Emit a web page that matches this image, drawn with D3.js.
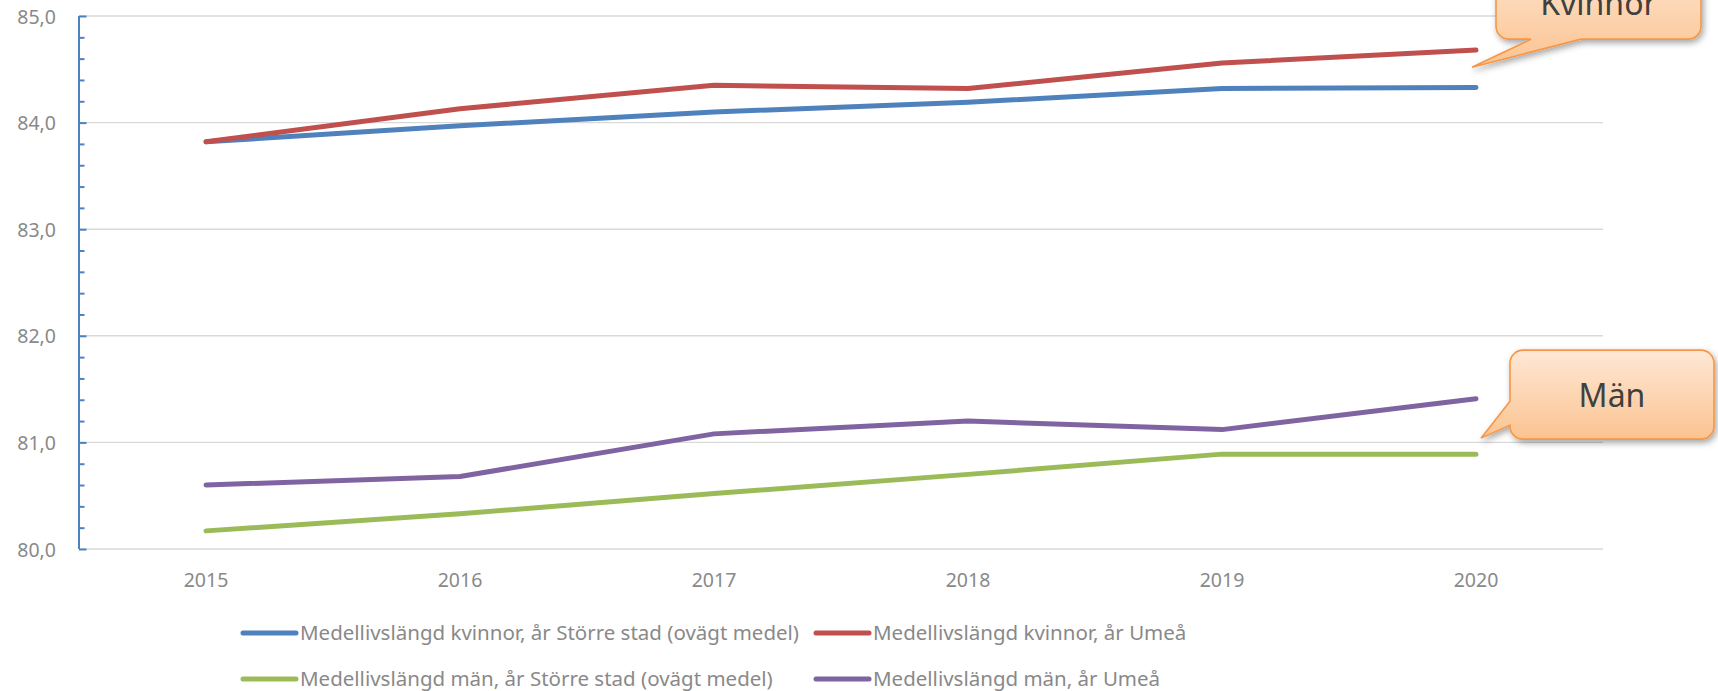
<!DOCTYPE html>
<html>
<head>
<meta charset="utf-8">
<script src="https://cdn.jsdelivr.net/npm/d3@7"></script>
<style>
    body { margin: 0; background: #fff; }
    svg { display: block; font-family: 'Noto Sans', sans-serif; }
    .gridline { stroke: #d9d9d9; stroke-width: 1.4; }
    .tick-label { fill: #898989; font-size: 19.5px; }
    .legend-label { fill: #898989; font-size: 20.5px; }
    .callout-text { fill: #404040; font-size: 32px; }
</style>
</head>
<body>
<div id="chart"></div>
<script>
// values
const years = ['2015', '2016', '2017', '2018', '2019', '2020'];
const kvinnorStorreStad = [83.82, 83.97, 84.10, 84.19, 84.32, 84.33];
const kvinnorUmea = [83.82, 84.13, 84.35, 84.32, 84.56, 84.68];
const manStorreStad = [80.17, 80.33, 80.52, 80.70, 80.89, 80.89];
const manUmea = [80.60, 80.68, 81.08, 81.20, 81.12, 81.41];
const seriesNames = [
    'Medellivslängd kvinnor, år Större stad (ovägt medel)',
    'Medellivslängd kvinnor, år Umeå',
    'Medellivslängd män, år Större stad (ovägt medel)',
    'Medellivslängd män, år Umeå'
];
const seriesColors = ['#4f81bd', '#c0504d', '#9bbb59', '#8064a2'];
const yTicks = [80, 81, 82, 83, 84, 85];
const yTickLabels = ['80,0', '81,0', '82,0', '83,0', '84,0', '85,0'];
const calloutLabels = ['Kvinnor', 'Män'];
const calloutTargets = [84.52, 81.04];

function lineChart() {
    // Mike Bostock's margin convention, sized to the 1718x691 window
    let margin = { top: 16, left: 79, right: 115, bottom: 142 },
        totalWidth = 1718,
        totalHeight = 691,
        width = totalWidth - margin.left - margin.right,
        height = totalHeight - margin.top - margin.bottom;

    function chart(selector) {
        let svg = d3.select(selector)
            .append('svg')
            .attr('width', totalWidth)
            .attr('height', totalHeight);

        let defs = svg.append('defs');
        let grad = defs.append('linearGradient')
            .attr('id', 'calloutFill')
            .attr('x1', 0).attr('y1', 0).attr('x2', 0).attr('y2', 1);
        grad.append('stop').attr('offset', '0%').attr('stop-color', '#fee8d6');
        grad.append('stop').attr('offset', '100%').attr('stop-color', '#fbc390');
        defs.append('filter')
            .attr('id', 'shadow')
            .attr('x', '-20%').attr('y', '-20%').attr('width', '150%').attr('height', '150%')
            .append('feDropShadow')
            .attr('dx', 2).attr('dy', 3).attr('stdDeviation', 3)
            .attr('flood-color', '#000').attr('flood-opacity', 0.35);

        let x = d3.scaleBand()
            .domain(years)
            .range([margin.left, margin.left + width]);
        let xMid = d => x(d) + x.bandwidth() / 2;

        let y = d3.scaleLinear()
            .domain([80, 85])
            .range([margin.top + height, margin.top]);

        // horizontal gridlines
        svg.append('g')
            .selectAll('line')
            .data(yTicks).enter()
            .append('line')
            .attr('class', 'gridline')
            .attr('x1', margin.left)
            .attr('x2', margin.left + width)
            .attr('y1', d => y(d))
            .attr('y2', d => y(d));

        // y axis with inside ticks (major every 1, minor every 0.2)
        let yAxis = svg.append('g')
            .attr('transform', `translate(${margin.left},0)`)
            .call(d3.axisRight(y)
                .tickValues(d3.range(80, 85.01, 0.2))
                .tickSize(6)
                .tickFormat(''));
        yAxis.select('.domain')
            .attr('d', `M0,${y(80)}V${y(85)}`)
            .attr('stroke', '#4f81bd')
            .attr('stroke-width', 2);
        yAxis.selectAll('.tick line')
            .attr('stroke', '#4f81bd')
            .attr('stroke-width', 2)
            .attr('x2', d => Math.abs(d - Math.round(d)) < 1e-6 ? 7.5 : 5.5);

        svg.append('g')
            .selectAll('text')
            .data(yTicks).enter()
            .append('text')
            .attr('class', 'tick-label')
            .attr('x', margin.left - 23)
            .attr('y', d => y(d) + 7.5)
            .attr('text-anchor', 'end')
            .text((d, i) => yTickLabels[i]);

        // x labels
        svg.append('g')
            .selectAll('text')
            .data(years).enter()
            .append('text')
            .attr('class', 'tick-label')
            .attr('x', d => xMid(d))
            .attr('y', y(80) + 38)
            .attr('text-anchor', 'middle')
            .text(d => d);

        // series lines
        let series = [kvinnorStorreStad, kvinnorUmea, manStorreStad, manUmea];
        let line = d3.line()
            .x((d, i) => xMid(years[i]))
            .y(d => y(d));

        svg.append('g')
            .selectAll('path')
            .data(series).enter()
            .append('path')
            .attr('d', d => line(d))
            .attr('fill', 'none')
            .attr('stroke', (d, i) => seriesColors[i])
            .attr('stroke-width', 5)
            .attr('stroke-linecap', 'round')
            .attr('stroke-linejoin', 'round');

        // callouts pointing at the end of the lines
        let tipX = xMid(years[years.length - 1]);
        let r = 13;
        let kTip = [tipX - 4, y(calloutTargets[0])];
        let mTip = [tipX + 5, y(calloutTargets[1])];

        // box with pointer from its bottom edge (Kvinnor)
        let kL = kTip[0] + 24, kR = kTip[0] + 229, kB = kTip[1] - 28, kT = kB - 89;
        let kPath = `M${kL + r},${kT}H${kR - r}A${r},${r} 0 0 1 ${kR},${kT + r}` +
            `V${kB - r}A${r},${r} 0 0 1 ${kR - r},${kB}` +
            `H${kTip[0] + 109}L${kTip[0]},${kTip[1]}L${kTip[0] + 59},${kB}` +
            `H${kL + r}A${r},${r} 0 0 1 ${kL},${kB - r}V${kT + r}A${r},${r} 0 0 1 ${kL + r},${kT}Z`;

        // box with pointer on the left side (Män)
        let mL = mTip[0] + 29, mR = mTip[0] + 233, mT = mTip[1] - 88, mB = mTip[1] + 1;
        let mPath = `M${mL + r},${mT}H${mR - r}A${r},${r} 0 0 1 ${mR},${mT + r}` +
            `V${mB - r}A${r},${r} 0 0 1 ${mR - r},${mB}` +
            `H${mL + r}A${r},${r} 0 0 1 ${mL},${mB - r}` +
            `V${mTip[1] - 13}L${mTip[0]},${mTip[1]}L${mL},${mTip[1] - 37}` +
            `V${mT + r}A${r},${r} 0 0 1 ${mL + r},${mT}Z`;

        let callouts = [
            { path: kPath, cx: (kL + kR) / 2, ty: kB - 24 },
            { path: mPath, cx: (mL + mR) / 2, ty: (mT + mB) / 2 + 12 }
        ];

        let cg = svg.append('g')
            .selectAll('g')
            .data(callouts).enter()
            .append('g');
        cg.append('path')
            .attr('d', d => d.path)
            .attr('fill', 'url(#calloutFill)')
            .attr('stroke', '#f79646')
            .attr('stroke-width', 1.6)
            .attr('filter', 'url(#shadow)');
        cg.append('text')
            .attr('class', 'callout-text')
            .attr('x', d => d.cx)
            .attr('y', d => d.ty)
            .attr('text-anchor', 'middle')
            .text((d, i) => calloutLabels[i]);

        // legend, two rows of two
        let legendX = [243, 816];
        let legendY = [633, 679];
        let legend = svg.append('g')
            .selectAll('g')
            .data(seriesNames).enter()
            .append('g')
            .attr('transform', (d, i) => `translate(${legendX[i % 2]},${legendY[Math.floor(i / 2)]})`);
        legend.append('line')
            .attr('x1', 0).attr('x2', 53)
            .attr('stroke', (d, i) => seriesColors[i])
            .attr('stroke-width', 5)
            .attr('stroke-linecap', 'round');
        legend.append('text')
            .attr('class', 'legend-label')
            .attr('x', 57)
            .attr('y', 7)
            .text(d => d);

        return chart;
    }

    return chart;
}

lineChart()('#chart');
</script>
</body>
</html>
